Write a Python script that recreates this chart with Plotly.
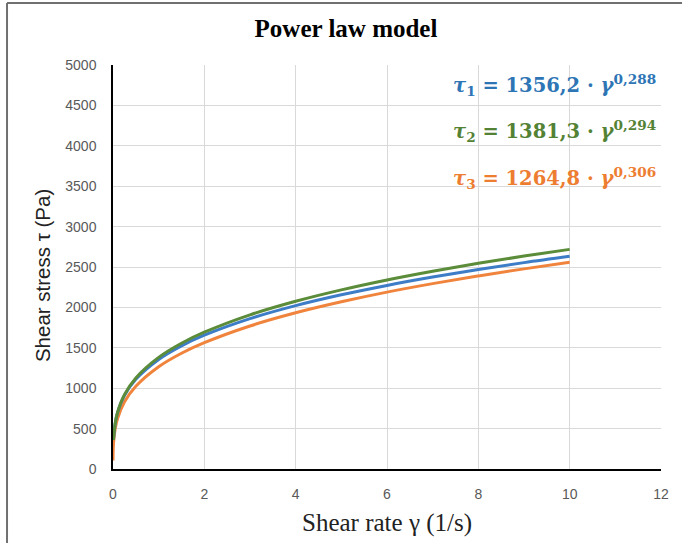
import plotly.graph_objects as go

# Shear rate (1/s)
x_main = [0.01, 0.05, 0.1, 0.25, 0.5, 1, 1.5, 2, 3, 4, 5, 6, 7, 8, 9, 10]
x_orange = [0.0003, 0.01, 0.05, 0.1, 0.25, 0.5, 1, 1.5, 2, 3, 4, 5, 6, 7, 8, 9, 10]

# Shear stress (Pa)
tau1 = [360, 570, 700, 910, 1110, 1356, 1524, 1656, 1861, 2022, 2156, 2272, 2375, 2468, 2554, 2632]
tau2 = [357, 572, 702, 919, 1127, 1381, 1556, 1693, 1908, 2076, 2217, 2340, 2448, 2546, 2635, 2718]
tau3 = [106, 309, 506, 625, 828, 1023, 1265, 1432, 1563, 1770, 1933, 2069, 2189, 2294, 2389, 2477, 2559]

eq_labels = [
    "<i>τ</i><sub>1</sub> = 1356,2 · <i>γ</i><sup>0,288</sup>",
    "<i>τ</i><sub>2</sub> = 1381,3 · <i>γ</i><sup>0,294</sup>",
    "<i>τ</i><sub>3</sub> = 1264,8 · <i>γ</i><sup>0,306</sup>",
]
eq_y = [4750, 4185, 3600]

x_ticks = [0, 2, 4, 6, 8, 10, 12]
y_ticks = list(range(0, 5001, 500))

x_title = "Shear rate γ (1/s)"
y_title = "Shear stress τ (Pa)"

line_colors = ["#3d7cc6", "#5b8c3a", "#f0843c"]
text_colors = ["#2e75b6", "#548235", "#ed7d31"]

fig = go.Figure()
fig.add_trace(go.Scatter(x=x_orange, y=tau3, mode="lines", line=dict(color=line_colors[2], width=3, shape="spline")))
fig.add_trace(go.Scatter(x=x_main, y=tau1, mode="lines", line=dict(color=line_colors[0], width=3, shape="spline")))
fig.add_trace(go.Scatter(x=x_main, y=tau2, mode="lines", line=dict(color=line_colors[1], width=3, shape="spline")))

for lab, yy, col in zip(eq_labels, eq_y, text_colors):
    fig.add_annotation(x=0.9945, xref="paper", y=yy, yref="y", text="<b>" + lab + "</b>",
                       showarrow=False, xanchor="right", yanchor="middle",
                       font=dict(family="DejaVu Serif", size=19.5, color=col))

# axis titles
fig.add_annotation(x=0.5, xref="paper", y=-0.1337, yref="paper", text=x_title, showarrow=False,
                   xanchor="center", yanchor="middle",
                   font=dict(family="Liberation Serif", size=25, color="#222"))
fig.add_annotation(x=-0.1296, xref="paper", y=0.48, yref="paper", text=y_title, showarrow=False,
                   textangle=-90, xanchor="center", yanchor="middle",
                   font=dict(family="Liberation Sans", size=20.5, color="#222"))

fig.update_layout(
    width=682, height=543,
    margin=dict(l=113, r=21, t=65, b=74),
    paper_bgcolor="white", plot_bgcolor="white",
    showlegend=False,
    title=dict(text="<b>Power law model</b>", x=346 / 682, xanchor="center", y=1 - 28 / 543, yanchor="middle",
               font=dict(family="Liberation Serif", size=25, color="black")),
    xaxis=dict(range=[0, 12], tickvals=x_ticks, showgrid=True, gridcolor="#d9d9d9", gridwidth=1,
               showline=True, linecolor="black", linewidth=1.5, zeroline=False, ticks="",
               ticklabelstandoff=11, automargin=False,
               tickfont=dict(family="Liberation Sans", size=14, color="#595959")),
    yaxis=dict(range=[0, 5000], tickvals=y_ticks, showgrid=True, gridcolor="#d9d9d9", gridwidth=1,
               showline=True, linecolor="black", linewidth=1.5, zeroline=False, ticks="",
               ticklabelstandoff=12, automargin=False,
               tickfont=dict(family="Liberation Sans", size=14, color="#595959")),
)

# outer chart border (left and top edges visible)
fig.add_shape(type="line", xref="paper", yref="paper", x0=-0.1934, x1=-0.1934, y0=-0.25, y1=1.1535,
              line=dict(color="#707070", width=2))
fig.add_shape(type="line", xref="paper", yref="paper", x0=-0.1934, x1=1.1, y0=1.1535, y1=1.1535,
              line=dict(color="#707070", width=2))

fig.write_html("out.html", config={"displayModeBar": False},
               post_script="document.body.style.margin='0px';document.body.style.overflow='hidden';")
